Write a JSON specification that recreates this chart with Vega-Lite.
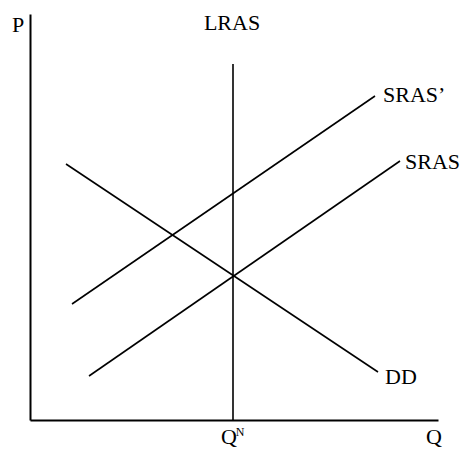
{
  "$schema": "https://vega.github.io/schema/vega-lite/v6.json",
  "width": 408,
  "height": 406,
  "autosize": {"type": "none"},
  "padding": {"left": 30, "top": 14, "right": 27, "bottom": 29},
  "background": "white",
  "config": {"view": {"stroke": null}},
  "datasets": {
    "curves": [
      {"curve": "SRAS'", "Q": 42, "P": 116},
      {"curve": "SRAS'", "Q": 345, "P": 324},
      {"curve": "SRAS", "Q": 59, "P": 44},
      {"curve": "SRAS", "Q": 370, "P": 259},
      {"curve": "DD", "Q": 36, "P": 256},
      {"curve": "DD", "Q": 348, "P": 48},
      {"curve": "LRAS", "Q": 203, "P": 0},
      {"curve": "LRAS", "Q": 203, "P": 356}
    ],
    "centerLabels": [
      {"text": "P", "Q": -12, "P": 395},
      {"text": "LRAS", "Q": 202, "P": 397},
      {"text": "Q", "Q": 199, "P": -17},
      {"text": "Q", "Q": 404, "P": -17}
    ],
    "leftLabels": [
      {"text": "SRAS’", "Q": 353, "P": 325},
      {"text": "SRAS", "Q": 375, "P": 258},
      {"text": "DD", "Q": 355, "P": 43}
    ],
    "sups": [
      {"text": "N", "Q": 210, "P": -12}
    ]
  },
  "layer": [
    {
      "data": {"name": "curves"},
      "mark": {"type": "line", "color": "black", "strokeWidth": 1.6, "clip": false},
      "encoding": {
        "x": {"field": "Q", "type": "quantitative", "scale": {"domain": [0, 408], "nice": false, "zero": false},
              "axis": {"title": null, "labels": false, "ticks": false, "grid": false, "domainColor": "black", "domainWidth": 2}},
        "y": {"field": "P", "type": "quantitative", "scale": {"domain": [0, 406], "nice": false, "zero": false},
              "axis": {"title": null, "labels": false, "ticks": false, "grid": false, "domainColor": "black", "domainWidth": 2}},
        "detail": {"field": "curve"}
      }
    },
    {
      "data": {"name": "centerLabels"},
      "mark": {"type": "text", "font": "Liberation Serif", "fontSize": 22, "color": "black", "baseline": "middle", "align": "center"},
      "encoding": {
        "x": {"field": "Q", "type": "quantitative"},
        "y": {"field": "P", "type": "quantitative"},
        "text": {"field": "text"}
      }
    },
    {
      "data": {"name": "leftLabels"},
      "mark": {"type": "text", "font": "Liberation Serif", "fontSize": 22, "color": "black", "baseline": "middle", "align": "left"},
      "encoding": {
        "x": {"field": "Q", "type": "quantitative"},
        "y": {"field": "P", "type": "quantitative"},
        "text": {"field": "text"}
      }
    },
    {
      "data": {"name": "sups"},
      "mark": {"type": "text", "font": "Liberation Serif", "fontSize": 12, "color": "black", "baseline": "middle", "align": "center"},
      "encoding": {
        "x": {"field": "Q", "type": "quantitative"},
        "y": {"field": "P", "type": "quantitative"},
        "text": {"field": "text"}
      }
    }
  ]
}
